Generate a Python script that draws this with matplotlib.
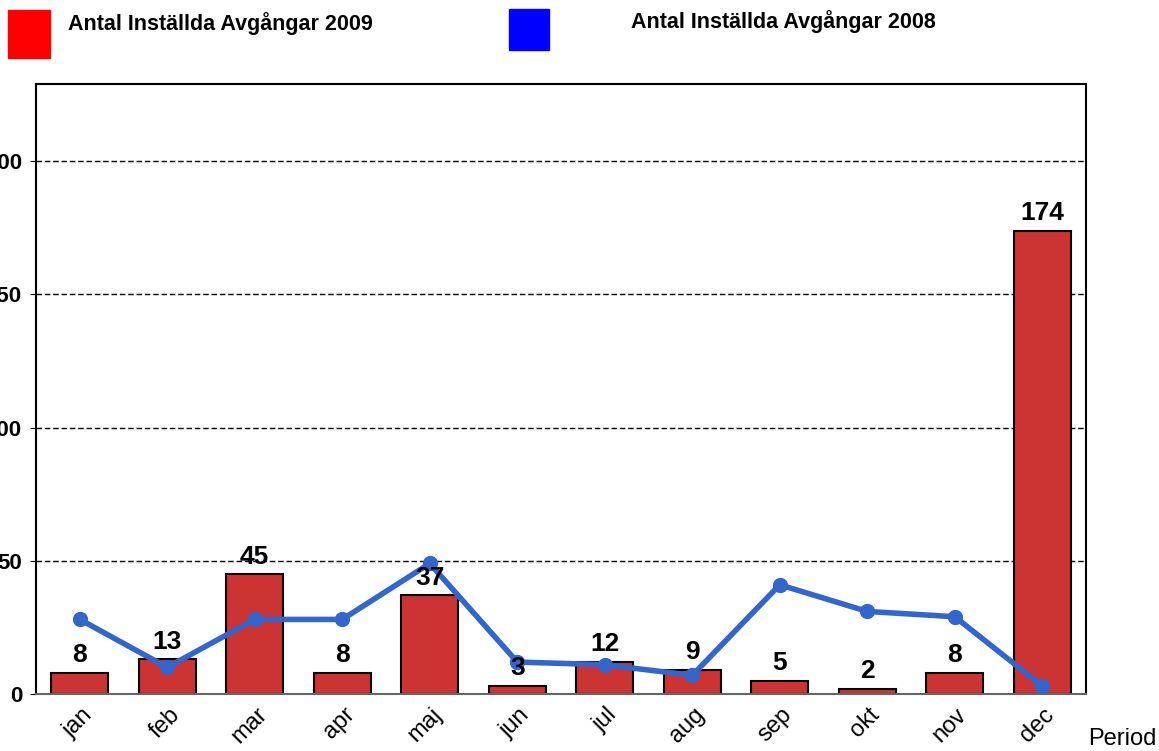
import matplotlib
matplotlib.use("Agg")
import matplotlib.pyplot as plt
import numpy as np

months = ["jan", "feb", "mar", "apr", "maj", "jun", "jul", "aug", "sep", "okt", "nov", "dec"]
cancelled_2009 = [8, 13, 45, 8, 37, 3, 12, 9, 5, 2, 8, 174]
cancelled_2008 = [28, 10, 28, 28, 49, 12, 11, 7, 41, 31, 29, 3]
yticks = [0, 50, 100, 150, 200]
label_2009 = "Antal Inställda Avgångar 2009"
label_2008 = "Antal Inställda Avgångar 2008"

plt.rcParams['font.family'] = ['Liberation Sans', 'DejaVu Sans']

fig = plt.figure(figsize=(11.59, 7.51), dpi=100)
ax = fig.add_axes([36/1159, 1-694/751, (1086-36)/1159, (694-84)/751])

x = np.arange(len(months))
ax.bar(x, cancelled_2009, width=0.65, color="#CC3333", edgecolor="black", linewidth=1.5, zorder=2)
ax.plot(x, cancelled_2008, color="#3366CC", linewidth=4, marker="o", markersize=10, zorder=3)

for xi, v in zip(x, cancelled_2009):
    ax.annotate(str(v), (xi, v), xytext=(0, 4), textcoords="offset points",
                ha="center", va="bottom", fontsize=19, fontweight="bold", zorder=4)

ax.set_xlim(-0.5, 11.5)
ax.set_ylim(0, 229)
ax.set_yticks(yticks)
ax.set_yticklabels([str(t) for t in yticks], fontsize=16, fontweight="bold")
ax.set_xticks(x)
ax.set_xticklabels([])
ax.tick_params(axis="x", length=0)
ax.tick_params(axis="y", length=4, pad=6)

# month labels, rotated 45 degrees
for xi, m in zip(x, months):
    ax.annotate(m, (xi, 0), xycoords=("data", "axes fraction"),
                xytext=(12, -7), textcoords="offset points",
                rotation=45, ha="right", va="top", fontsize=17)

for gy in yticks[1:]:
    ax.axhline(gy, color="black", linestyle=(0, (4, 2)), linewidth=1, zorder=1)
for s in ax.spines.values():
    s.set_linewidth(1.5)
    s.set_color("black")
ax.spines["bottom"].set_color("#666666")

fig.text(1088/1159, 1-739/751, "Period", fontsize=17, va="center", ha="left")

# legend
fig.patches.append(plt.Rectangle((8/1159, 1-58/751), 42/1159, 48/751, transform=fig.transFigure, color="#FF0000"))
fig.text(68/1159, 1-24/751, label_2009, fontsize=15.5, fontweight="bold", va="center", ha="left")
fig.patches.append(plt.Rectangle((509/1159, 1-50/751), 40/1159, 41/751, transform=fig.transFigure, color="#0000FF"))
fig.text(631/1159, 1-22/751, label_2008, fontsize=15.5, fontweight="bold", va="center", ha="left")

fig.savefig("out.png", dpi=100)
